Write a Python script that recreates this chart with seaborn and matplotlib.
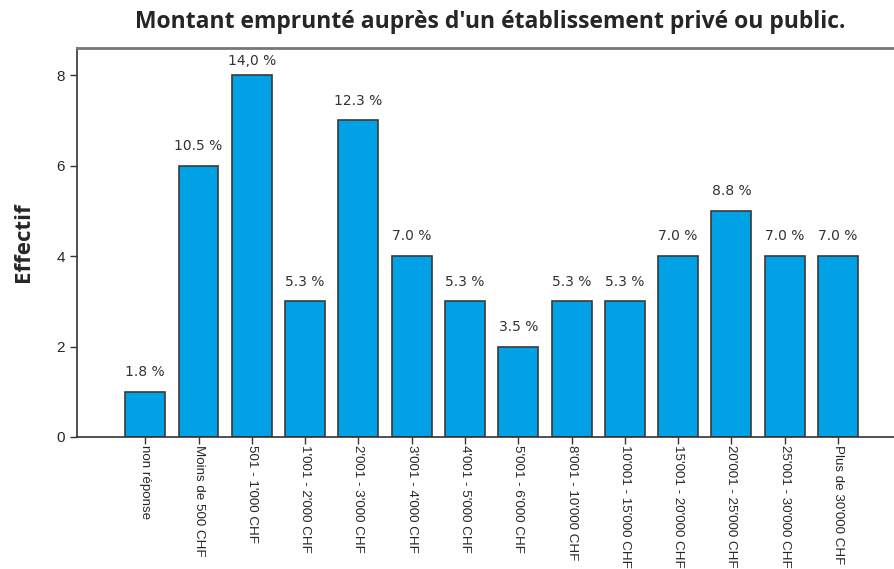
import matplotlib
matplotlib.use("Agg")
import matplotlib.pyplot as plt
import seaborn as sns
import pandas as pd

categories = [
    "non réponse", "Moins de 500 CHF", "501 - 1'000 CHF", "1'001 - 2'000 CHF",
    "2'001 - 3'000 CHF", "3'001 - 4'000 CHF", "4'001 - 5'000 CHF",
    "5'001 - 6'000 CHF", "8'001 - 10'000 CHF", "10'001 - 15'000 CHF",
    "15'001 - 20'000 CHF", "20'001 - 25'000 CHF", "25'001 - 30'000 CHF",
    "Plus de 30'000 CHF",
]
counts = [1, 6, 8, 3, 7, 4, 3, 2, 3, 3, 4, 5, 4, 4]
pct_labels = ["1.8 %", "10.5 %", "14,0 %", "5.3 %", "12.3 %", "7.0 %", "5.3 %",
              "3.5 %", "5.3 %", "5.3 %", "7.0 %", "8.8 %", "7.0 %", "7.0 %"]
y_ticks = [0, 2, 4, 6, 8]

df = pd.DataFrame({"montant": categories, "effectif": counts})

sns.set_style("white")
plt.rcParams["font.family"] = ["Liberation Sans", "DejaVu Sans"]

fig = plt.figure(figsize=(8.95, 5.69), dpi=100)
ax = fig.add_axes([77 / 895, 1 - 437 / 569, 1 - 77 / 895, (437 - 48) / 569])

sns.barplot(data=df, x="montant", y="effectif", color="#00A2E5",
            saturation=1, width=0.75, edgecolor="#3a3a3a", linewidth=1.2, ax=ax)

ymax = 8.6
for i, (v, lab) in enumerate(zip(counts, pct_labels)):
    # label au-dessus de la barre, sans dépasser le cadre
    ax.text(i, min(v + 0.28, ymax - 0.45), lab, ha="center", va="bottom",
            fontsize=10, color="#333333", family=["DejaVu Sans"])

ax.set_xlim(-1.28, 14.07)
ax.set_ylim(0, ymax)
ax.set_yticks(y_ticks)
ax.set_xlabel("")
ax.set_ylabel("Effectif", fontsize=16, fontweight="bold",
              family=["Open Sans", "DejaVu Sans"], labelpad=16)

ax.tick_params(axis="y", direction="out", length=5, width=1, labelsize=11,
               left=True, color="#333333")
ax.tick_params(axis="x", direction="out", length=5, width=1, bottom=True,
               pad=1, color="#333333")
ax.set_xticks(range(len(categories)))
ax.set_xticklabels(categories, rotation=270, ha="center", va="top", fontsize=9.6)

for side in ["left", "bottom", "top"]:
    ax.spines[side].set_color("#333333")
    ax.spines[side].set_linewidth(1.2)
ax.spines["right"].set_visible(False)
ax.spines["top"].set_color("#777777")
ax.spines["top"].set_linewidth(2)

fig.text(490 / 895, 1 - 22 / 569, "Montant emprunté auprès d'un établissement privé ou public.",
         ha="center", va="center", fontsize=16.5, fontweight="bold",
         family=["Open Sans", "DejaVu Sans"])

fig.savefig("out.png", dpi=100)
